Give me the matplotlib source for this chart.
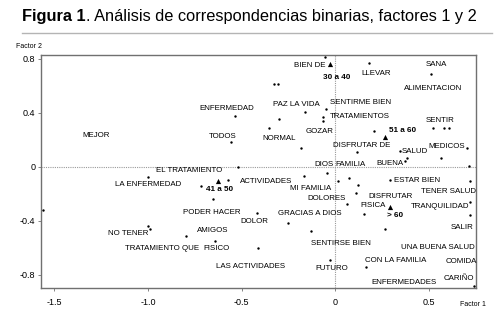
import matplotlib
matplotlib.use("Agg")
import matplotlib.pyplot as plt
from matplotlib.lines import Line2D

# puntos (categorias sin etiqueta propia)
dot_x = [-0.534, -0.557, -0.519, -1.002, -0.715, -0.571, -0.655, -1.562, -1.002, -0.988,
         -0.797, -0.642, -0.415, -0.420, -0.167, -0.043, 0.013, 0.073, 0.119, 0.113,
         0.064, -0.254, -0.130, -0.028, 0.164, 0.742, 0.265, 0.152, 0.719, 0.717,
         0.717, 0.292, 0.714, 0.565, 0.703, 0.345, 0.372, 0.383, 0.116, 0.205,
         0.524, 0.578, 0.607, 0.511, 0.182, -0.057, -0.327, -0.306, -0.160, -0.299,
         -0.051, -0.066, -0.066, -0.354, -0.185]
dot_y = [0.376, 0.183, -0.004, -0.074, -0.141, -0.101, -0.237, -0.321, -0.437, -0.464,
         -0.510, -0.547, -0.604, -0.341, -0.067, -0.049, -0.106, -0.084, -0.139, -0.197,
         -0.275, -0.419, -0.476, -0.691, -0.743, -0.881, -0.461, -0.348, -0.358, -0.261,
         -0.108, -0.099, 0.003, 0.066, 0.142, 0.114, 0.042, 0.068, 0.109, 0.261,
         0.290, 0.290, 0.290, 0.689, 0.770, 0.810, 0.615, 0.615, 0.403, 0.353,
         0.429, 0.370, 0.339, 0.284, 0.141]

# grupos de edad
tri_x = [-0.028, -0.625, 0.267, 0.292]
tri_y = [0.761, -0.106, 0.220, -0.296]
age_labels = ["30 a 40", "41 a 50", "51 a 60", "> 60"]
age_lx = [0.007, -0.618, 0.357, 0.319]
age_ly = [0.657, -0.167, 0.267, -0.358]

# etiquetas de palabras
words = ["MEJOR", "ENFERMEDAD", "TODOS", "EL TRATAMIENTO", "LA ENFERMEDAD", "PODER HACER",
         "NO TENER", "TRATAMIENTO QUE", "AMIGOS", "FISICO", "LAS ACTIVIDADES", "DOLOR",
         "ACTIVIDADES", "MI FAMILIA", "DOLORES", "GRACIAS A DIOS", "SENTIRSE BIEN",
         "FUTURO", "CON LA FAMILIA", "ENFERMEDADES", "CARIÑO", "COMIDA",
         "UNA BUENA SALUD", "SALIR", "TRANQUILIDAD", "TENER SALUD", "ESTAR BIEN",
         "DISFRUTAR", "FISICA", "SENTIRME BIEN", "TRATAMIENTOS", "PAZ LA VIDA",
         "BIEN DE", "NORMAL", "GOZAR", "DIOS", "FAMILIA", "BUENA", "DISFRUTAR DE",
         "SALUD", "MEDICOS", "SENTIR", "SANA", "ALIMENTACION", "LLEVAR"]
word_x = [-1.275, -0.578, -0.602, -0.781, -1.000, -0.662, -1.107, -0.923, -0.656, -0.632,
          -0.454, -0.433, -0.370, -0.133, -0.047, -0.137, 0.028, -0.021, 0.322, 0.368,
          0.659, 0.671, 0.550, 0.675, 0.562, 0.602, 0.437, 0.297, 0.204, 0.133,
          0.130, -0.208, -0.136, -0.298, -0.082, -0.060, 0.081, 0.289, 0.143, 0.423,
          0.593, 0.557, 0.541, 0.523, 0.219]
word_y = [0.230, 0.433, 0.227, -0.030, -0.133, -0.341, -0.491, -0.607, -0.469, -0.607,
          -0.736, -0.402, -0.113, -0.158, -0.239, -0.350, -0.567, -0.753, -0.693, -0.856,
          -0.827, -0.704, -0.600, -0.449, -0.293, -0.187, -0.104, -0.217, -0.289, 0.477,
          0.373, 0.457, 0.746, 0.210, 0.257, 0.020, 0.020, 0.027, 0.159, 0.116,
          0.148, 0.341, 0.753, 0.581, 0.689]

xticks = [-1.5, -1.0, -0.5, 0, 0.5]
xtick_labels = ["-1.5", "-1.0", "-0.5", "0", "0.5"]
yticks = [0.8, 0.4, 0, -0.4, -0.8]
ytick_labels = ["0.8", "0.4", "0", "-0.4", "-0.8"]

plt.rcParams["font.family"] = ["Liberation Sans", "DejaVu Sans"]

W, H = 500, 324
fig = plt.figure(figsize=(W / 100, H / 100), dpi=100)
ax = fig.add_axes([41 / W, 1 - 288 / H, 435 / W, 233 / H])

ax.axhline(0, color="#9a9a9a", lw=0.8, ls=(0, (1, 1)), zorder=1)
ax.axvline(0, color="#9a9a9a", lw=0.8, ls=(0, (1, 1)), zorder=1)

ax.scatter(dot_x, dot_y, s=3, color="black", marker="o", lw=0, zorder=3)
ax.scatter(tri_x, tri_y, s=14, color="black", marker="^", lw=0, zorder=3)

for w, x, y in zip(words, word_x, word_y):
    ax.text(x, y, w, ha="center", va="center", fontsize=5.7, zorder=4)
for w, x, y in zip(age_labels, age_lx, age_ly):
    ax.text(x, y, w, ha="center", va="center", fontsize=5.9, weight="bold", zorder=4)

ax.set_xlim(-1.571, 0.751)
ax.set_ylim(-0.898, 0.827)
ax.set_xticks(xticks)
ax.set_xticklabels(xtick_labels)
ax.set_yticks(yticks)
ax.set_yticklabels(ytick_labels)
ax.tick_params(labelsize=6.5, length=2, width=0.6, color="#707070", pad=2)
ax.tick_params(axis="x", pad=5)
for sp in ax.spines.values():
    sp.set_color("#707070")
    sp.set_linewidth(1)

fig.text(16 / W, 1 - 47 / H, "Factor 2", fontsize=5, va="center")
fig.text(460 / W, 1 - 305 / H, "Factor 1", fontsize=5, va="center")

# titulo con parte en negrita
t1 = fig.text(22 / W, 1 - 21 / H, "Figura 1", fontsize=11.8, weight="bold", va="baseline")
fig.canvas.draw()
bb = t1.get_window_extent()
fig.text(bb.x1 / W, 1 - 21 / H, ". Análisis de correspondencias binarias, factores 1 y 2",
         fontsize=11.8, va="baseline")
fig.add_artist(Line2D([22 / W, 492 / W], [1 - 32.5 / H, 1 - 32.5 / H],
                      transform=fig.transFigure, color="#b4b4b4", lw=1))

fig.savefig("out.png", dpi=100)
